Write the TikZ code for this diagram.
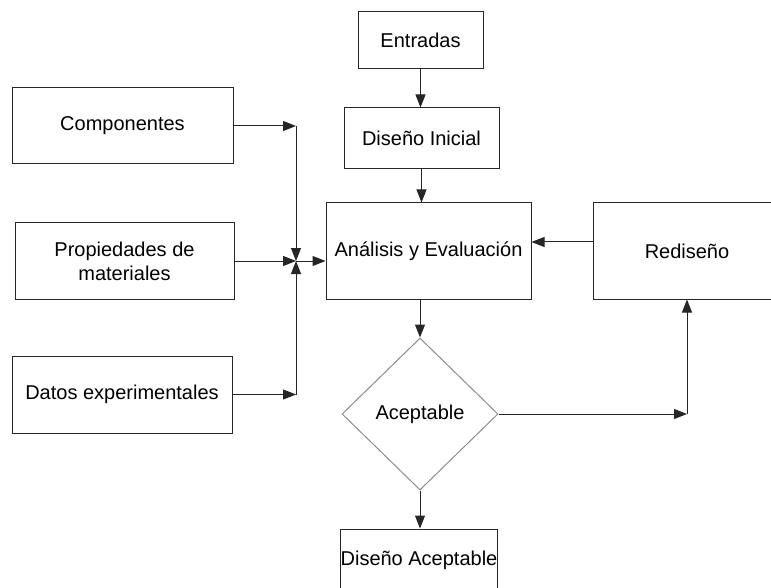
\documentclass[tikz,border=0pt]{standalone}
\usepackage{fontspec}
\setmainfont{Liberation Sans}
\usetikzlibrary{arrows.meta}
\usetikzlibrary{shapes.geometric}

\begin{document}
\begin{tikzpicture}[x=1pt,y=-1pt,>={Triangle[length=13pt,width=10pt]},
  every node/.style={font=\fontsize{20}{24}\selectfont},
  caja/.style={draw=black!85,line width=1pt,inner sep=0pt,align=center},
  rombo/.style={diamond,draw=black!45,line width=1pt,inner sep=0pt},
  flecha/.style={->,line width=1pt,draw=black!85}]
\useasboundingbox (0,0) rectangle (771,588);
\node[caja,minimum width=125pt,minimum height=57pt] (ent) at (420.5,40.5) {Entradas};
\node[caja,minimum width=155pt,minimum height=61pt] (ini) at (421.5,138.5) {Diseño Inicial};
\node[caja,minimum width=205pt,minimum height=96pt] (ana) at (428.5,251) {Análisis y Evaluación};
\node[caja,minimum width=188pt,minimum height=96pt] (redi) at (687,251) {Rediseño};
\node[rombo,minimum width=156pt,minimum height=152pt] (acep) at (420,414) {Aceptable};
\node[caja,minimum width=154pt,minimum height=62pt] (fin) at (419,560) {Diseño Aceptable};
\node[caja,minimum width=221pt,minimum height=76pt] (comp) at (122.5,126) {Componentes};
\node[caja,minimum width=219pt,minimum height=76pt] (prop) at (124.5,261) {Propiedades de\\materiales};
\node[caja,minimum width=220pt,minimum height=77pt] (datos) at (122,394.5) {Datos experimentales};
\coordinate (j) at (296,261);
\coordinate (c1) at (comp -| j);
\coordinate (c3) at (datos -| j);
\coordinate (c4) at (acep -| redi);
% entradas a la izquierda
\draw[flecha] (comp) -- (c1);
\draw[flecha] (c1) -- (j);
\draw[flecha] (prop) -- (j);
\draw[flecha] (datos) -- (c3);
\draw[flecha] (c3) -- (j);
\draw[flecha] (j) -- (j -| ana.west);
% flujo central
\draw[flecha] (ent.south) -- (ent.south |- ini.north);
\draw[flecha] (ini.south) -- (ini.south |- ana.north);
\draw[flecha] (acep |- ana.south) -- (acep.north);
\draw[flecha] (acep.south) -- (acep.south |- fin.north);
% lazo de rediseño
\draw[flecha] (acep.east) -- (c4);
\draw[flecha] (c4) -- (redi.south);
\draw[flecha] ([yshift=9pt]redi.west) -- ([yshift=9pt]ana.east);
\end{tikzpicture}
\end{document}
